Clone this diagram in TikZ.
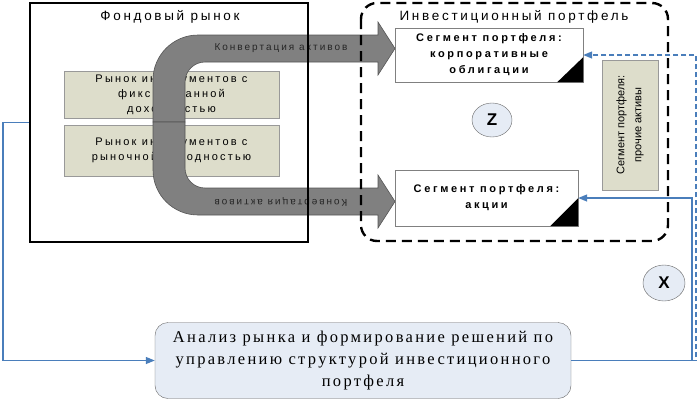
\documentclass[tikz,border=0pt]{standalone}
\usepackage{fontspec}
\setmainfont{Liberation Sans}
\newfontfamily\spc[LetterSpace=20]{Liberation Sans}
\newfontfamily\spb[LetterSpace=24]{Liberation Sans}
\newfontfamily\sers[LetterSpace=14]{Liberation Serif}
\usetikzlibrary{arrows.meta,calc,shapes.geometric}
\definecolor{beige}{RGB}{221,221,203}
\definecolor{arrg}{RGB}{128,128,128}
\definecolor{arrd}{RGB}{85,85,85}
\definecolor{bl}{RGB}{74,126,187}
\definecolor{lbl}{RGB}{230,236,245}
\tikzset{
  beigebox/.style={draw=black!40,fill=beige,inner sep=0pt,align=center,font=\spc\fontsize{11}{15}\selectfont},
  segbox/.style={draw=black!50,fill=white,inner sep=0pt,align=center,font=\spb\bfseries\fontsize{11}{16}\selectfont},
  blline/.style={draw=bl,line width=1.3pt,-{Triangle[length=9pt,width=7pt]}},
  circ/.style={ellipse,draw=black!60,fill=lbl,font=\bfseries\fontsize{17}{17}\selectfont,inner sep=0pt},
  lab/.style={font=\spc\fontsize{10}{10}\selectfont,text=black!85,inner sep=0pt}
}
\begin{document}
\begin{tikzpicture}[x=1pt,y=-1pt]
\useasboundingbox (0,0) rectangle (697,400);
% beige boxes
\node[beigebox,minimum width=215pt,minimum height=47pt] (fix) at (171.5,94.5) {Рынок инструментов с\\фиксированной\\доходностью};
\node[beigebox,minimum width=215pt,minimum height=51pt] (mkt) at (171.5,150.5) {Рынок инструментов с\\рыночной доходностью};
% gray U arrow, upper half
\draw[fill=arrg,draw=arrd,line width=0.6pt] (153,122) -- (153,80) arc[start angle=180,end angle=270,radius=45] -- (378,35) -- (378,22) -- (395,48.5) -- (378,75) -- (378,62) -- (205,62) arc[start angle=270,end angle=180,radius=20] -- (185,122) -- cycle;
% lower half
\draw[fill=arrg,draw=arrd,line width=0.6pt] (153,122) -- (153,170) arc[start angle=180,end angle=90,radius=45] -- (378,215) -- (378,228) -- (395,201.5) -- (378,175) -- (378,188) -- (205,188) arc[start angle=90,end angle=180,radius=20] -- (185,122) -- cycle;
\node[lab] (c1) at (281,48.5) {Конвертация активов};
\node[lab,rotate=180] (c2) at (281,201.5) {Конвертация активов};
% stock market frame
\node[draw=black,line width=1.8pt,minimum width=278pt,minimum height=239pt,inner sep=0pt] (fund) at (169,122.5) {};
\node[font=\spc\fontsize{13.5}{14}\selectfont] (fundt) at (170,17) {Фондовый рынок};
% portfolio frame
\draw[line width=2.4pt,dash pattern=on 10pt off 6pt,rounded corners=16pt] (361,3) rectangle (668,241);
\node[font=\spc\fontsize{13.5}{14}\selectfont] (portt) at (514,17) {Инвестиционный портфель};
% segments
\node[segbox,minimum width=188pt,minimum height=54pt] (corp) at (489,55) {Сегмент портфеля:\\корпоративные\\облигации};
\fill (corp.south east) -- ++(-26,0) -- ++(26,-25) -- cycle;
\node[segbox,minimum width=183pt,minimum height=56pt] (akc) at (486.5,198) {Сегмент портфеля:\\акции};
\fill (akc.south east) -- ++(-28,0) -- ++(28,-28) -- cycle;
\node[draw=black!40,fill=beige,minimum width=56pt,minimum height=130pt,inner sep=0pt] (oth) at (630,125) {};
\node[rotate=90,align=center,font=\fontsize{11}{17}\selectfont] (otht) at (oth.center) {Сегмент портфеля:\\прочие активы};
\node[circ,minimum width=40pt,minimum height=34pt] (z) at (492,120) {Z};
\node[circ,minimum width=42pt,minimum height=36pt] (x) at (664,283) {X};
% analysis
\node[draw=black!60,fill=lbl,rounded corners=13pt,minimum width=416pt,minimum height=76pt,inner sep=0pt,align=center,font=\sers\fontsize{16.5}{22}\selectfont] (anal) at (363,360.5) {Анализ рынка и формирование решений по\\управлению структурой инвестиционного\\портфеля};
% blue connectors
\coordinate (lft) at (3,122.5);
\draw[blline] (fund.west) -- (lft) |- (anal.west);
\coordinate (rd) at (696,55);
\coordinate (rs) at (692,198);
\draw[blline,dash pattern=on 5pt off 3pt] (anal.east) -| (rd) -- (corp.east);
\draw[blline] (anal.east) -| (rs) -- (akc.east);
\end{tikzpicture}
\end{document}
